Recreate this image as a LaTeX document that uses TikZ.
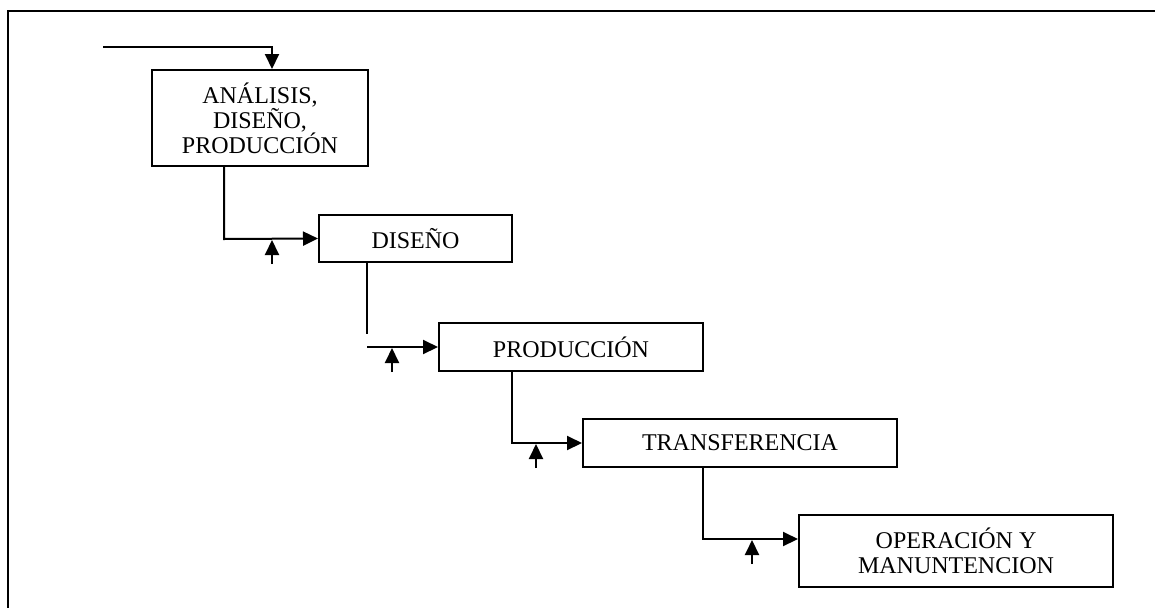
\documentclass[tikz,border=0pt]{standalone}
\usepackage{fontspec}
\setmainfont{Liberation Serif}
\usetikzlibrary{arrows.meta}
\begin{document}
\begin{tikzpicture}[x=1pt,y=-1pt,
  every node/.style={font=\fontsize{24}{25}\selectfont},
  stage/.style={draw,line width=2pt,rectangle,align=center,inner sep=0pt},
  link/.style={line width=2pt},
  flow/.style={link,-{Triangle[length=15pt,width=14pt]}},
  feedback/.style={line width=2pt,-{Triangle[length=15pt,width=14pt]}},
  frame/.style={line width=2.8pt}]
\useasboundingbox (0,0) rectangle (1155,608);

% outer frame (top and left edges)
\draw[frame] (8,11) -- (1155,11);
\draw[frame] (8,10) -- (8,608);

% stages
\node[stage,minimum width=216pt,minimum height=96pt] (adp) at (260,118)
  {ANÁLISIS,\\DISEÑO,\\PRODUCCIÓN};
\node[stage,minimum width=193pt,minimum height=47pt] (dis) at (415.5,238.5) {DISEÑO};
\node[stage,minimum width=264pt,minimum height=48pt] (pro) at (571,347) {PRODUCCIÓN};
\node[stage,minimum width=314pt,minimum height=48pt] (tra) at (740,443) {TRANSFERENCIA};
\node[stage,minimum width=314pt,minimum height=72pt] (ope) at (956,551)
  {OPERACIÓN Y\\MANUNTENCION};

% input
\coordinate (in0) at (103,47);
\coordinate (in1) at (272,47);
\draw[flow] (in0) -- (in1) -- (in1 |- adp.north);

% stage to stage
\coordinate (k1) at (224,239);
\draw[flow] (adp.south -| k1) -- (k1) -- (dis.west);

\coordinate (k2a) at (367,334);
\coordinate (k2b) at (367,347);
\draw[link] (dis.south -| k2a) -- (k2a);
\draw[flow] (k2b) -- (pro.west);

\coordinate (k3) at (512,443);
\draw[flow] (pro.south -| k3) -- (k3) -- (tra.west);

\coordinate (k4) at (703,539);
\draw[flow] (tra.south -| k4) -- (k4) -- (k4 -| ope.west);

% feedback stubs under each link
\coordinate (f1) at (272,264);  \coordinate (t1) at (272,240);
\coordinate (f2) at (392,372);  \coordinate (t2) at (392,348);
\coordinate (f3) at (536,468);  \coordinate (t3) at (536,444);
\coordinate (f4) at (752,564);  \coordinate (t4) at (752,540);
\foreach \i in {1,...,4} \draw[feedback] (f\i) -- (t\i);
\end{tikzpicture}
\end{document}
